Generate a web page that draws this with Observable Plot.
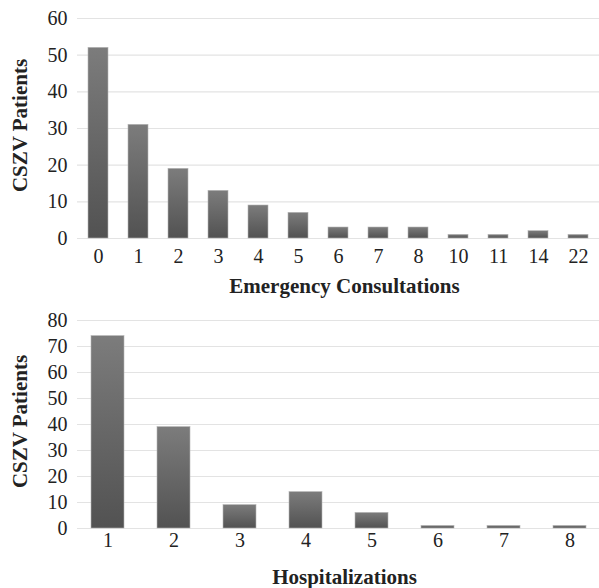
<!DOCTYPE html>
<html>
<head>
<meta charset="utf-8">
<script src="https://cdn.jsdelivr.net/npm/d3@7"></script>
<script src="https://cdn.jsdelivr.net/npm/@observablehq/plot@0.6"></script>
<style>
  body { margin: 0; background: #fff; }
  #chart { width: 599px; }
  svg { display: block; }
</style>
</head>
<body>
<div id="chart"></div>
<script>
const emergencyCategories = ["0","1","2","3","4","5","6","7","8","10","11","14","22"];
const emergencyPatients = [52, 31, 19, 13, 9, 7, 3, 3, 3, 1, 1, 2, 1];
const emergencyTicks = [0, 10, 20, 30, 40, 50, 60];

const hospCategories = ["1","2","3","4","5","6","7","8"];
const hospPatients = [74, 39, 9, 14, 6, 1, 1, 1];
const hospTicks = [0, 10, 20, 30, 40, 50, 60, 70, 80];

const yTitle = "CSZV Patients";
const emergencyTitle = "Emergency Consultations";
const hospTitle = "Hospitalizations";

const FONT = "'Liberation Serif', 'DejaVu Serif', serif";

function panel(cats, vals, ticks, xTitle, opts) {
  const data = cats.map((c, i) => ({cat: c, n: vals[i]}));
  const svg = Plot.plot({
    width: 599,
    height: opts.height,
    marginTop: opts.marginTop,
    marginBottom: opts.marginBottom,
    marginLeft: 77,
    marginRight: 0,
    style: {fontFamily: FONT, fontSize: "20px", color: "#222", background: "#fff"},
    x: {domain: cats, paddingInner: 0.5, paddingOuter: 0.2, label: null},
    y: {domain: [0, ticks[ticks.length - 1]], label: null},
    marks: [
      Plot.gridY(ticks, {stroke: "#e3e3e3", strokeOpacity: 1, strokeWidth: 1.2}),
      Plot.barY(data, {x: "cat", y: "n", fill: "url(#barGrad)", stroke: "#b5b5b5", strokeWidth: 0.6}),
      Plot.axisY(ticks, {tickSize: 0, tickPadding: 10, label: null, fontSize: 20}),
      Plot.axisX({tickSize: 0, tickPadding: opts.tickPad, label: null, fontSize: 20}),
      Plot.text([yTitle], {frameAnchor: "left", textAnchor: "middle", dx: -57, dy: -3, rotate: -90, fontWeight: "bold", fontSize: 21, fill: "#222"}),
      Plot.text([xTitle], {frameAnchor: "bottom", textAnchor: "middle", dy: opts.titleDy, dx: 6, fontWeight: "bold", fontSize: 21, fill: "#222"})
    ]
  });
  const s = d3.select(svg);
  const defs = s.insert("defs", ":first-child");
  const g = defs.append("linearGradient").attr("id", "barGrad").attr("x1", 0).attr("y1", 0).attr("x2", 0).attr("y2", 1);
  g.append("stop").attr("offset", "0%").attr("stop-color", "#7c7c7c");
  g.append("stop").attr("offset", "100%").attr("stop-color", "#525252");
  return svg;
}

const root = document.getElementById("chart");
root.appendChild(panel(emergencyCategories, emergencyPatients, emergencyTicks, emergencyTitle,
  {height: 300, marginTop: 18, marginBottom: 62, titleDy: 54, tickPad: 10}));
root.appendChild(panel(hospCategories, hospPatients, hospTicks, hospTitle,
  {height: 288, marginTop: 20, marginBottom: 60, titleDy: 55, tickPad: 4}));
</script>
</body>
</html>
